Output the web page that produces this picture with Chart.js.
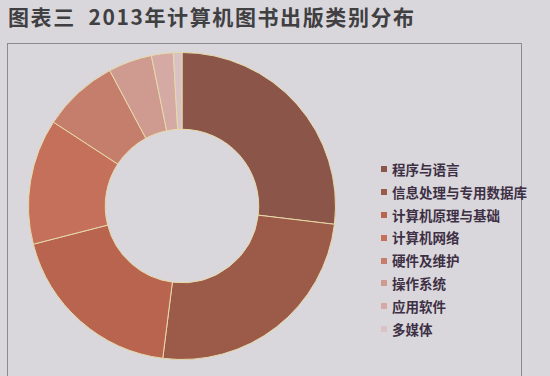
<!DOCTYPE html>
<html><head><meta charset="utf-8">
<script src="https://cdn.jsdelivr.net/npm/chart.js@4/dist/chart.umd.min.js"></script>
<style>
html,body{margin:0;padding:0;width:550px;height:376px;overflow:hidden;background:#d9d7dc;}
#title{position:absolute;left:8px;top:1px;font-family:"Noto Sans CJK SC","DejaVu Sans",sans-serif;font-size:21px;font-weight:bold;color:#404042;letter-spacing:1.6px;white-space:nowrap;}
#box{position:absolute;left:7px;top:43px;width:513px;height:360px;border:1px solid #8a8a90;}
#wrap{position:absolute;left:28px;top:52px;width:308px;height:308px;}
#legend{position:absolute;left:381px;top:159px;font-family:"Noto Sans CJK SC",sans-serif;font-size:13.5px;font-weight:bold;color:#3e3044;}
.item{height:22.8px;line-height:20px;white-space:nowrap;}
.sw{display:inline-block;width:6px;height:6px;margin-right:5px;vertical-align:middle;position:relative;top:-2px;}
</style></head>
<body>
<div id="title">图表三&nbsp; 2013年计算机图书出版类别分布</div>
<div id="box"></div>
<div id="wrap"><canvas id="c"></canvas></div>
<div id="legend"></div>
<script>
const categories = ["程序与语言","信息处理与专用数据库","计算机原理与基础","计算机网络","硬件及维护","操作系统","应用软件","多媒体"];
const shares = [26.9, 25.1, 19.0, 13.2, 8.0, 4.6, 2.3, 0.9];
const colors = ["#8b5649","#9c5a48","#b9644e","#c4705b","#c67e6c","#cf9a8f","#d5aaa4","#d8c2c4"];

const leg = document.getElementById('legend');
categories.forEach((c,i)=>{
  const d=document.createElement('div');d.className='item';
  const s=document.createElement('span');s.className='sw';s.style.background=colors[i];
  d.appendChild(s);d.appendChild(document.createTextNode(c));leg.appendChild(d);
});

new Chart(document.getElementById('c'),{
  type:'doughnut',
  data:{labels:categories,datasets:[{data:shares,backgroundColor:colors,borderColor:"#e6d9a8",borderWidth:1}]},
  options:{responsive:true,maintainAspectRatio:false,animation:false,cutout:'50%',
    layout:{padding:0},
    plugins:{legend:{display:false},tooltip:{enabled:false}}}
});
</script>
</body></html>
